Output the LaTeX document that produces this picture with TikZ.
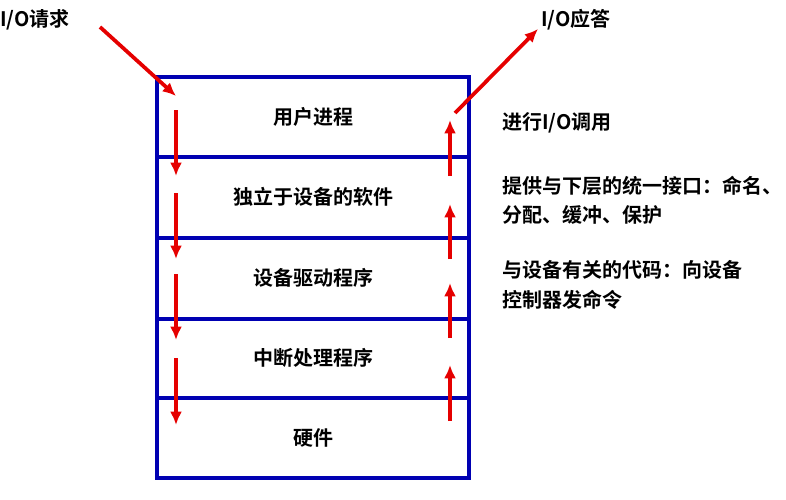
\documentclass[tikz,border=0pt]{standalone}
\usepackage{fontspec}
\setmainfont{Noto Sans CJK SC}[BoldFont={Noto Sans CJK SC Bold}]
\usetikzlibrary{arrows.meta}
\begin{document}
\begin{tikzpicture}[x=0.75pt,y=-0.75pt,
  lay/.style={draw=blue!70!black,line width=2.6pt},
  arr/.style={red!90!black,line width=2.8pt,-{Latex[length=10pt,width=9pt]}},
  txt/.style={font=\fontsize{15}{18}\selectfont\bfseries},
  side/.style={font=\fontsize{15}{22}\selectfont\bfseries,align=left,anchor=west}]
\useasboundingbox (0,0) rectangle (786,500);
\draw[lay] (157,77) rectangle (469,478);
\foreach \y in {157,238,319,398} \draw[lay] (157,\y) -- (469,\y);
\node[txt] (l1) at (313,117) {用户进程};
\node[txt] (l2) at (313,197) {独立于设备的软件};
\node[txt] (l3) at (313,278) {设备驱动程序};
\node[txt] (l4) at (313,358) {中断处理程序};
\node[txt] (l5) at (313,438) {硬件};
\node[txt,anchor=west,inner sep=0pt] (req) at (0,20) {I/O请求};
\node[txt,anchor=west,inner sep=0pt] (ans) at (541,20) {I/O应答};
\node[side,inner sep=0pt] (s1) at (502,123) {进行I/O调用};
\node[side,inner sep=0pt] (s2) at (502,200) {提供与下层的统一接口：命名、\\分配、缓冲、保护};
\node[side,inner sep=0pt] (s3) at (502,285) {与设备有关的代码：向设备\\控制器发命令};
\coordinate (i0) at (100,27); \coordinate (i1) at (176,96);
\draw[arr] (i0) -- (i1);
\foreach \a/\b in {110/176,193/259,274/340,358/425}
  \draw[arr] (176,\a) -- (176,\b);
\foreach \a/\b in {176/120,259/204,338/283,421/365}
  \draw[arr] (450,\a) -- (450,\b);
\coordinate (o0) at (455,113); \coordinate (o1) at (538,29);
\draw[arr] (o0) -- (o1);
\end{tikzpicture}
\end{document}
